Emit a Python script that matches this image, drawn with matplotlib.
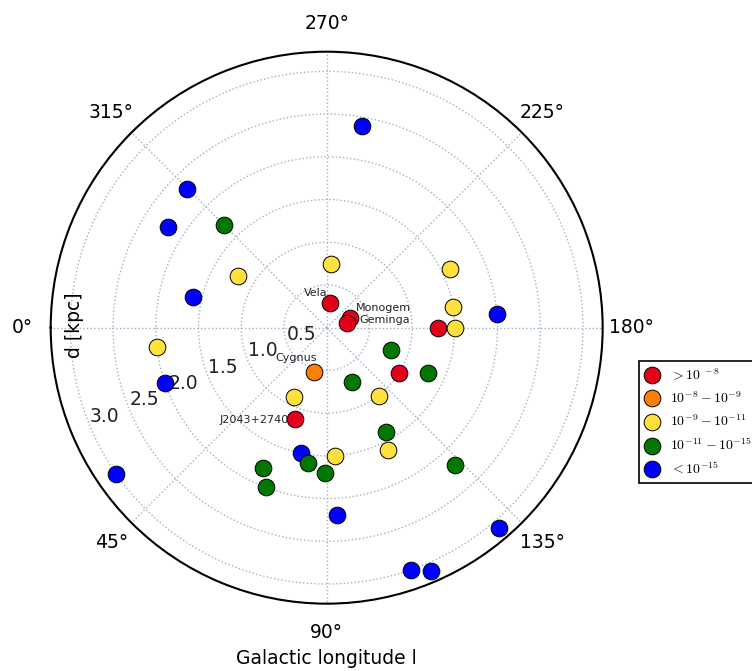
import matplotlib
matplotlib.use('Agg')
import matplotlib.pyplot as plt
import numpy as np

# galactic longitude l [deg] and distance d [kpc], grouped by flux class
red_l = [262.5, 202.6, 194.0, 70.9, 179.8, 148.3]
red_d = [0.29, 0.29, 0.24, 1.13, 1.3, 1.0]

orange_l = [74.1]
orange_d = [0.54]

yellow_l = [329.7, 266.2, 205.3, 189.1, 180.0, 127.4, 65.1, 6.4, 116.5, 93.7]
yellow_d = [1.2, 0.75, 1.6, 1.5, 1.5, 1.0, 0.9, 2.0, 1.6, 1.5]

green_l = [315.0, 161.1, 156.2, 114.7, 119.6, 82.3, 89.3, 65.6, 69.2, 132.9]
green_d = [1.7, 0.8, 1.3, 0.7, 1.4, 1.6, 1.7, 1.8, 2.0, 2.2]

blue_l = [260.2, 315.3, 327.5, 347.2, 184.6, 19.0, 34.8, 78.3, 130.7, 93.3, 109.2, 113.1]
blue_d = [2.4, 2.3, 2.2, 1.6, 2.0, 2.0, 3.0, 1.5, 3.1, 2.2, 3.0, 3.1]

legend_labels = [r'$>10^{\ -8}$', r'$10^{-8}-10^{-9}$', r'$10^{-9}-10^{-11}$',
                 r'$10^{-11}-10^{-15}$', r'$<10^{-15}$']

# named sources
names = ['Vela', 'Monogem', 'Geminga', 'Cygnus', 'J2043+2740']
name_l = [262.5, 202.6, 194.0, 74.1, 70.9]
name_d = [0.29, 0.29, 0.24, 0.54, 1.13]

r_ticks = [0.5, 1.0, 1.5, 2.0, 2.5, 3.0]

plt.rcParams['mathtext.fontset'] = 'cm'

fig = plt.figure(figsize=(7.52, 6.71), dpi=100)
ax = fig.add_axes([0.0674, 0.1003, 0.734, 0.8227], projection='polar')
ax.set_theta_zero_location('W')
ax.set_theta_direction(1)

def rad(l):
    return np.deg2rad(np.array(l))

ms = 12
mew = 0.7
ax.plot(rad(blue_l), blue_d, 'o', color='#0000ff', mec='k', mew=mew, ms=ms, zorder=3)
ax.plot(rad(red_l), red_d, 'o', color='#e3001b', mec='k', mew=mew, ms=ms, zorder=4)
ax.plot(rad(orange_l), orange_d, 'o', color='#ff7f00', mec='k', mew=mew, ms=ms, zorder=4)
ax.plot(rad(yellow_l), yellow_d, 'o', color='#ffe03c', mec='k', mew=mew, ms=ms, zorder=5)
ax.plot(rad(green_l), green_d, 'o', color='#007800', mec='k', mew=mew, ms=ms, zorder=5)

ax.set_ylim(0, 3.23)
ax.set_yticks(r_ticks)
ax.set_yticklabels([])
ax.set_xticks(np.deg2rad(np.arange(0, 360, 45)))
ax.tick_params(axis='x', labelsize=13.5, pad=13.5, length=0)
ax.grid(True, color='#9fb2c8', linestyle=':', linewidth=1)
ax.spines['polar'].set_linewidth(1.5)

# radial labels, old style (left/bottom anchored at 22.5 deg)
for r in r_ticks:
    ax.text(np.deg2rad(22.5), r, '%.1f' % r, ha='left', va='bottom',
            fontsize=13.5, color='#222222', zorder=2)

# source names
offsets = [(-2, 7), (6, 7), (12.5, 0), (3, 11), (-6, -4)]
aligns = ['right', 'left', 'left', 'right', 'right']
for n, l, d, off, ha in zip(names, name_l, name_d, offsets, aligns):
    ax.annotate(n, xy=(np.deg2rad(l), d), xytext=off, textcoords='offset pixels',
                ha=ha, va='baseline', fontsize=8, color='#222222', zorder=6)

ax.set_xlabel('Galactic longitude l', fontsize=13.5)
ax.xaxis.set_label_coords(0.5, -0.0815)
fig.text(74 / 752., 1 - 325 / 671., 'd [kpc]', rotation=90, ha='center', va='center',
         fontsize=13.5)

# legend
colors = ['#e3001b', '#ff7f00', '#ffe03c', '#007800', '#0000ff']
handles = [plt.Line2D([], [], ls='', marker='o', color=c, mec='k', mew=mew, ms=ms)
           for c in colors]
leg = fig.legend(handles, legend_labels, loc='upper left',
                 bbox_to_anchor=(639 / 752., 1 - 361 / 671.), borderaxespad=0,
                 numpoints=1, fontsize=10, handlelength=1.0, handletextpad=0.8,
                 labelspacing=0.55, fancybox=False, shadow=False, framealpha=1)
leg.get_frame().set_edgecolor('k')
leg.get_frame().set_linewidth(1.2)

fig.savefig('out.png', dpi=100)
